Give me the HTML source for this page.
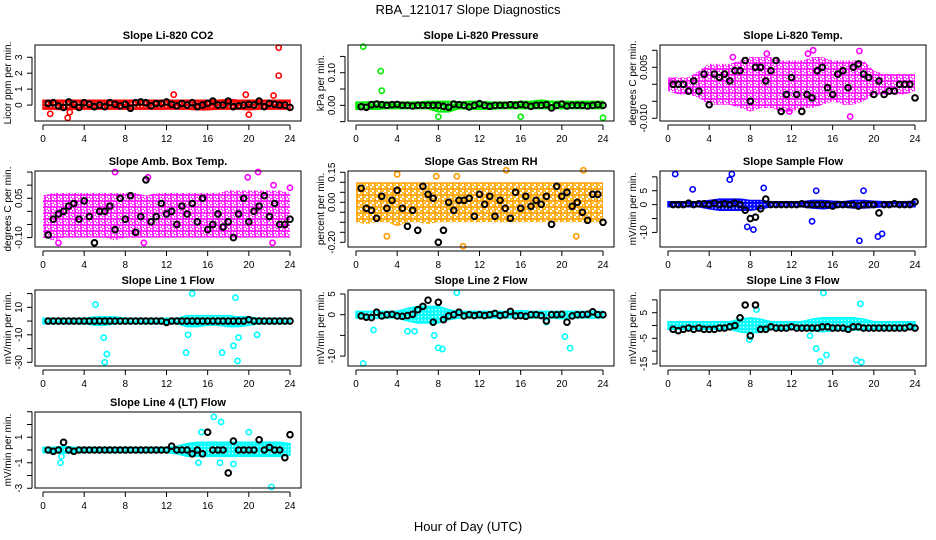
<!DOCTYPE html>
<html><head><meta charset="utf-8">
<style>
body{margin:0;background:#fff;}
svg{display:block;font-family:"Liberation Sans",sans-serif;}
</style></head>
<body>
<svg id="chart" width="936" height="540" viewBox="0 0 936 540" xmlns="http://www.w3.org/2000/svg">
<defs id="defs"></defs>
<text x="468" y="14" font-size="13" text-anchor="middle">RBA_121017  Slope Diagnostics</text>
<text x="468" y="531" font-size="13" text-anchor="middle">Hour of Day (UTC)</text>
</svg>
<script>
const hours = [0,1,2,3,4,5,6,7,8,9,10,11,12,13,14,15,16,17,18,19,20,21,22,23,24];
const blackHours = [0.5,1,1.5,2,2.5,3,3.5,4,4.5,5,5.5,6,6.5,7,7.5,8,8.5,9,9.5,10,10.5,11,11.5,12,12.5,13,13.5,14,14.5,15,15.5,16,16.5,17,17.5,18,18.5,19,19.5,20,20.5,21,21.5,22,22.5,23,23.5,24];
const xTicks = [0,4,8,12,16,20,24];

const titles = ["Slope Li-820 CO2","Slope Li-820 Pressure","Slope Li-820 Temp.","Slope Amb. Box Temp.","Slope Gas Stream RH","Slope Sample Flow","Slope Line 1 Flow","Slope Line 2 Flow","Slope Line 3 Flow","Slope Line 4 (LT) Flow"];
const yLabels = ["Licor ppm per min.","kPa per min.","degrees C per min.","degrees C per min.","percent per min.","mV/min per min.","mV/min per min.","mV/min per min.","mV/min per min.","mV/min per min."];
const colors = ["#ff0000","#00ee00","#ff00ff","#ff00ff","#ff9900","#0000ff","#00ffff","#00ffff","#00ffff","#00ffff"];
const yMin = [-1.0,-0.048,-0.0108,-0.136,-0.2235,-15.25,-32.7,-12.4,-15.8,-2.98];
const yMax = [3.77,0.185,0.01156,0.154,0.1565,12.1,22.6,5.97,13.85,2.98];
const yTicks = [[0,1,2,3],[-0.05,0,0.05,0.1,0.15],[-0.01,-0.005,0,0.005,0.01],[-0.1,-0.05,0,0.05,0.1,0.15],[-0.2,-0.15,-0.1,-0.05,0,0.05,0.1,0.15],[-10,-5,0,5,10],[-30,-20,-10,0,10,20],[-10,-5,0,5],[-15,-10,-5,0,5,10],[-3,-2,-1,0,1,2,3]];
const yTickLabels = [["0","1","2","3"],["","0.00","","0.10",""],["-0.010","","","0.005",""],["-0.10","","","0.05","",""],["-0.20","","","","0.00","","","0.15"],["-10","","0","5",""],["-30","","-10","","10",""],["-10","","0","5"],["-15","","-5","","5",""],["-3","","-1","","1","",""]];

const bandLo = [
 [-0.25,-0.25,-0.3,-0.25,-0.25,-0.25,-0.25,-0.25,-0.25,-0.25,-0.25,-0.25,-0.25,-0.25,-0.25,-0.3,-0.3,-0.25,-0.25,-0.25,-0.3,-0.25,-0.25,-0.25,-0.25],
 [-0.012,-0.012,-0.012,-0.01,-0.01,-0.01,-0.01,-0.01,-0.02,-0.02,-0.01,-0.012,-0.012,-0.012,-0.01,-0.01,-0.01,-0.01,-0.01,-0.01,-0.01,-0.01,-0.01,-0.01,-0.01],
 [-0.002,-0.003,-0.003,-0.004,-0.006,-0.006,-0.006,-0.007,-0.008,-0.007,-0.007,-0.008,-0.008,-0.007,-0.007,-0.006,-0.005,-0.006,-0.006,-0.005,-0.003,-0.003,-0.003,-0.003,-0.002],
 [-0.1,-0.11,-0.1,-0.1,-0.1,-0.1,-0.1,-0.11,-0.1,-0.1,-0.1,-0.1,-0.1,-0.1,-0.1,-0.1,-0.1,-0.1,-0.1,-0.1,-0.1,-0.1,-0.1,-0.1,-0.1],
 [-0.1,-0.11,-0.1,-0.1,-0.12,-0.1,-0.1,-0.11,-0.1,-0.1,-0.1,-0.1,-0.1,-0.1,-0.1,-0.1,-0.1,-0.1,-0.1,-0.1,-0.1,-0.1,-0.1,-0.1,-0.1],
 [-0.8,-0.8,-0.8,-0.8,-1.5,-2,-2,-2,-2,-1.5,-0.8,-0.8,-0.8,-0.8,-1.2,-1.5,-1.2,-0.8,-1.2,-1.2,-1,-0.8,-0.8,-0.8,-0.8],
 [-2,-2,-2,-2,-2,-3,-3,-2,-2,-2,-2,-2,-2,-2,-4,-4,-3,-3,-4,-4,-3,-2,-2,-2,-2],
 [-0.8,-0.8,-0.8,-0.8,-0.8,-1.5,-2,-2,-2,-1.2,-0.8,-0.8,-0.8,-0.8,-0.8,-0.8,-0.8,-0.8,-0.8,-0.8,-1,-0.8,-0.8,-0.8,-0.8],
 [-1.5,-1.5,-1.5,-1.5,-1.5,-1.5,-1.5,-2.5,-3,-2.5,-1.5,-1.5,-1.5,-1.5,-2,-2.5,-2,-1.8,-1.8,-1.8,-1.5,-1.5,-1.5,-1.5,-1.5],
 [-0.2,-0.2,-0.25,-0.2,-0.2,-0.2,-0.2,-0.2,-0.2,-0.2,-0.2,-0.2,-0.2,-0.3,-0.5,-0.5,-0.5,-0.5,-0.5,-0.5,-0.5,-0.5,-0.5,-0.5,-0.4]];
const bandHi = [
 [0.3,0.3,0.3,0.3,0.3,0.3,0.3,0.3,0.3,0.3,0.3,0.3,0.3,0.3,0.3,0.3,0.3,0.3,0.35,0.3,0.3,0.3,0.3,0.3,0.3],
 [0.01,0.01,0.012,0.01,0.01,0.01,0.01,0.012,0.012,0.012,0.01,0.012,0.012,0.01,0.01,0.01,0.012,0.012,0.016,0.012,0.012,0.012,0.012,0.012,0.012],
 [0.002,0.002,0.002,0.004,0.006,0.006,0.006,0.007,0.008,0.008,0.008,0.007,0.007,0.007,0.008,0.008,0.007,0.007,0.007,0.007,0.004,0.003,0.003,0.003,0.003],
 [0.06,0.07,0.07,0.07,0.07,0.07,0.07,0.07,0.07,0.07,0.06,0.07,0.07,0.07,0.07,0.07,0.07,0.07,0.08,0.08,0.08,0.08,0.08,0.08,0.07],
 [0.1,0.1,0.1,0.1,0.1,0.1,0.1,0.1,0.1,0.1,0.1,0.1,0.1,0.1,0.1,0.1,0.1,0.1,0.1,0.1,0.1,0.1,0.1,0.1,0.1],
 [1,1,1,1,1.5,2,2,2,1.5,1.5,1,1,1,1,1.5,1.5,1.2,1,1.5,1.5,1.2,1,1,1,1.2],
 [2,2,2,2,2,3,3,3,2,2,2,2,2,2,4,4,4,4,4,3,3,2,2,2,2],
 [0.8,0.8,0.8,0.8,0.8,1.5,2,2,2,1.2,0.8,0.8,0.8,0.8,0.8,0.8,1,0.8,0.8,0.8,0.8,0.8,0.8,0.8,0.8],
 [1.5,1.5,1.5,1.5,1.5,1.5,1.5,2.5,3,2.5,1.5,1.5,1.5,1.5,2.5,3,3,3,3,2.5,1.5,1.5,1.5,1.5,1.5],
 [0.2,0.2,0.3,0.2,0.2,0.2,0.2,0.2,0.2,0.2,0.2,0.2,0.2,0.3,0.5,0.6,0.6,0.6,0.6,0.6,0.6,0.6,0.6,0.6,0.5]];

const outX = [
 [22.9,22.9,22.4,19.7,12.7,2.4,0.7,20.0,2.6],
 [0.7,2.4,2.5,8.0,16.0,24.0],
 [14.1,13.6,9.6,18.6,17.7,11.8,6.3,0.5],
 [7.0,10.2,20.9,19.9,22.3,24.0,22.4,9.8,1.5],
 [14.6,22.1,4.0,10.4,9.8,21.4,7.8,3.0],
 [0.7,6.2,6.0,2.4,18.6,20.4,20.8,8.3,7.7,14.0,14.4,9.3,19.0],
 [14.5,18.7,5.1,6.0,6.2,5.9,14.1,13.9,17.4,18.9,18.5,20.8,19.0],
 [0.7,9.8,1.7,5.7,5.0,7.6,8.0,8.4,20.3,20.8,18.5],
 [15.1,18.7,8.6,14.4,14.8,18.3,18.8,15.4,7.9,13.8],
 [16.6,17.3,15.4,22.2,1.8,1.7,15.1,17.2,18.5,20.0]];
const outY = [
 [3.6,1.85,0.6,0.65,0.65,-0.8,-0.55,-0.6,-0.45],
 [0.18,0.105,0.045,-0.035,-0.035,-0.038],
 [0.01,0.009,0.009,0.0098,-0.0095,-0.008,0.008,0.001],
 [0.15,0.13,0.15,0.13,-0.12,0.09,0.1,-0.12,-0.12],
 [0.16,0.16,0.14,-0.22,0.13,-0.17,0.13,-0.17],
 [11,11,9,5.5,-13,-11.5,-10.5,-9,-8,-6,5,6,5],
 [20,17,12,-30,-24,-12,-10,-23,-23,-29,-18,-10,-12],
 [-11.8,5.3,-3.7,-4,-4,-5,-8,-8.3,-5.3,-8.1,-1.8],
 [12.7,8.5,6.2,-9,-14,-13.5,-14.3,-11.5,-5.5,-4],
 [2.6,2.2,1.4,-2.9,-0.5,-1.0,-1.0,-1.0,-1.1,1.4]];

const blackY = [
 [0.1,0.15,-0.05,-0.15,0.2,0.05,-0.15,0.15,0.05,-0.1,0,-0.1,0.15,0.05,-0.05,0.05,-0.2,0.15,0.2,0.15,-0.05,0.1,0.1,0.2,0.05,-0.05,0.1,0,0.15,-0.1,0,0.1,0.25,0,0,0.25,-0.1,-0.05,0,0.05,0,0.25,-0.1,0.1,0.05,0,0,-0.15],
 [-0.004,-0.006,0.002,0.004,0.002,0,0.002,0.003,0,0,-0.002,0,0,0,0,0,-0.003,-0.006,0.004,0.002,0,-0.005,0,0.005,0,-0.003,0,0,0,0.002,0,0.003,0.001,-0.003,0,0,0.002,-0.008,0,0.004,-0.002,0,0,0,-0.002,0,0.002,0],
 [0,0,0,-0.002,0.001,-0.002,0.003,-0.006,0.003,0.002,0.003,0.001,0.004,0.004,0.007,-0.005,0.005,0.005,0.001,0.004,0.007,-0.008,-0.003,0.002,-0.003,-0.008,-0.003,-0.004,0.004,0.005,-0.001,-0.003,0.003,0.004,-0.001,0.005,0.006,0.003,0.002,-0.003,0.001,-0.003,-0.002,-0.002,0,0,0,-0.004],
 [-0.09,-0.03,-0.01,0.0,0.02,0.03,-0.03,0.04,-0.02,-0.12,0.0,0.0,0.02,-0.07,0.05,-0.03,0.06,-0.08,-0.02,0.12,-0.04,-0.02,0.03,-0.01,0.0,-0.05,0.02,-0.01,0.03,-0.04,0.05,-0.07,-0.05,-0.01,-0.06,-0.04,-0.1,-0.01,0.05,-0.04,0.0,0.02,0.06,-0.02,0.03,-0.05,-0.05,-0.03],
 [0.07,-0.03,-0.04,-0.08,0.03,-0.03,0.01,0.06,-0.03,-0.12,-0.04,-0.14,0.08,0.04,0.02,-0.2,-0.14,0.0,-0.04,0.01,0.01,0.02,-0.07,0.04,-0.01,0.03,-0.07,0.01,-0.03,-0.08,0.05,-0.03,0.03,-0.02,0.01,-0.01,0.03,-0.11,0.08,0.03,0.05,-0.02,0.0,-0.05,-0.09,0.04,0.04,-0.1],
 [0,0,0,0.5,0,0.3,0.3,0,0.5,0,0.3,0,0.5,0,-2,-5,-4.5,-1.5,2,0,0,0,0,0,0,0.3,0,0,0,0,0,-0.5,0,0,0,0,-0.5,0,0,0,-3,0,0,0.3,0,0,0,1],
 [0,0,0,0,0,0,0,0,0,0,0,0,0,0,0,0,0,0,0,0,0,0,0,-1,0,0,0,0,0,0,0,0,0,0,0,0,0,0,0,1,0,0,0,0,0,0,0,0],
 [-0.3,-0.6,-0.7,0.6,-0.3,0,0.1,-0.3,-0.4,-0.2,0.1,1.2,2.0,3.5,-1.8,3.0,-1.2,-0.3,0,0.6,-0.3,0,-0.2,0,-0.2,0,0.3,-0.2,0,0.8,-0.3,-0.2,-0.4,0,0,-0.2,-1.5,0,0,0.1,-1.8,-0.3,0,0,0.1,0.7,0,0],
 [-1.5,-2,-1.5,-1,-1.5,-1,-1.5,-1.5,-1.5,-1,-1,-0.5,0,3,8,-4,8,-1.5,-1.5,-0.5,-1,-1,-1,-0.5,-1,-1,-1,-1,-1,-0.5,-0.5,-1,-1,-1,-1.5,-0.5,-0.5,-1,-1,-1,-1,-1,-1,-1,-1,-1,-0.5,-1],
 [0,-0.1,0,0.6,0,-0.1,0,0,0,0,0,0,0,0,0,0,0,0,0,0,0,0,0,0,0.3,0,0,0,-0.3,0,-0.3,1.4,0,0,0,-1.8,0.7,0,0,0,0,0.8,0,0.2,0,0,-0.6,1.2]];

const colLeft = [35,348,660];
const rowTop = [45,171,290,412];
const boxW = 266, boxH = 76;
const svg = document.getElementById('chart');
const defs = document.getElementById('defs');
const NS = 'http://www.w3.org/2000/svg';
function mk(tag, attrs, parent){const e=document.createElementNS(NS,tag);for(const k in attrs)e.setAttribute(k,attrs[k]);(parent||svg).appendChild(e);return e;}

for(let p=0;p<10;p++){
  const L = colLeft[p%3], T = rowTop[Math.floor(p/3)];
  const xs = h => L + 8 + h/24*247;
  const ys = v => T + boxH - (v - yMin[p])/(yMax[p]-yMin[p])*boxH;
  const g = mk('g',{});
  
  
  const sparse = (p===2||p===3||p===4);
  const sp = sparse ? 6 : 3.5;
  const pat = mk('pattern',{id:'pat'+p,width:sp,height:sp,patternUnits:'userSpaceOnUse'},defs);
  if(sparse){
    mk('circle',{cx:1.5,cy:1.5,r:1.8,fill:'none',stroke:colors[p],'stroke-width':1.5},pat);
    mk('circle',{cx:4.5,cy:4.5,r:1.8,fill:'none',stroke:colors[p],'stroke-width':1.5},pat);
    if(p===4){
      mk('circle',{cx:1.5,cy:1.5,r:0.8,fill:'#ffe000'},pat);
      mk('circle',{cx:4.5,cy:4.5,r:0.8,fill:'#ffe000'},pat);
    }
  } else {
    mk('circle',{cx:sp/2,cy:sp/2,r:1.5,fill:'none',stroke:colors[p],'stroke-width':1.6},pat);
  }
  const tt = mk('text',{x:L+boxW/2,y:T-6,'font-size':11,'font-weight':'bold','text-anchor':'middle'},g);
  tt.textContent = titles[p];
  
  
  let d = '';
  hours.forEach((h,i)=>{d += (i?'L':'M') + xs(h).toFixed(1) + ',' + ys(bandHi[p][i]).toFixed(1);});
  for(let i=hours.length-1;i>=0;i--){d += 'L' + xs(hours[i]).toFixed(1) + ',' + ys(bandLo[p][i]).toFixed(1);}
  const band = mk('path',{d:d+'Z',fill:'url(#pat'+p+')',stroke:sparse?'none':colors[p],'stroke-width':sparse?0:1.5},g);
  
  
  outX[p].forEach((h,i)=>{
    if(outY[p][i]===undefined) return;
    const c = mk('circle',{cx:xs(h),cy:ys(outY[p][i]),r:2.6,fill:'none',stroke:colors[p],'stroke-width':1.6},g);
    
    
  });
  blackHours.forEach((h,i)=>{
    const c = mk('circle',{cx:xs(h),cy:ys(blackY[p][i]),r:2.8,fill:'none',stroke:'#000','stroke-width':2},g);
    
    
  });
  mk('rect',{x:L,y:T,width:boxW,height:boxH,fill:'none',stroke:'#000','stroke-width':1},g);
  const ax = T + boxH + 4;
  mk('line',{x1:xs(0),y1:ax,x2:xs(24),y2:ax,stroke:'#000'},g);
  xTicks.forEach(t=>{
    mk('line',{x1:xs(t),y1:ax,x2:xs(t),y2:ax+5,stroke:'#000'},g);
    const tl = mk('text',{x:xs(t),y:ax+17,'font-size':10,'text-anchor':'middle'},g);
    tl.textContent = t;
    
    
  });
  const ayx = L - 3;
  const tk = yTicks[p];
  mk('line',{x1:ayx,y1:ys(tk[0]),x2:ayx,y2:ys(tk[tk.length-1]),stroke:'#000'},g);
  tk.forEach((t,i)=>{
    const y = ys(t);
    mk('line',{x1:ayx-5,y1:y,x2:ayx,y2:y,stroke:'#000'},g);
    if(yTickLabels[p][i]){
      const tl = mk('text',{x:ayx-10,y:y,'font-size':10,'text-anchor':'middle',transform:'rotate(-90 '+(ayx-10)+' '+y+')'},g);
      tl.textContent = yTickLabels[p][i];
      
      
    }
  });
  const yl = mk('text',{x:L-24,y:T+boxH/2,'font-size':10,'text-anchor':'middle',transform:'rotate(-90 '+(L-24)+' '+(T+boxH/2)+')'},g);
  yl.textContent = yLabels[p];
  
  
}
</script>
</body></html>
